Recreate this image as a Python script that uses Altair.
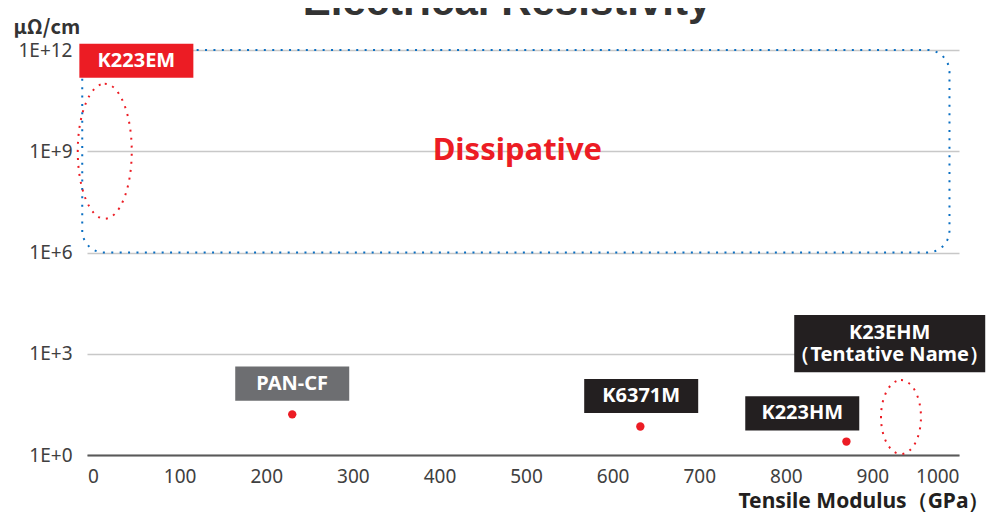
import altair as alt
import pandas as pd

# ---------------- data ----------------
# measured fibres (dots)
point_names = ["PAN-CF", "K6371M", "K223HM"]
point_modulus = [230, 632, 870]          # GPa
point_resist = [16, 7, 2.5]              # μΩ/cm

# estimated / tentative grades (dotted ellipses)
est_names = ["K223EM", "K23EHM"]
est_modulus = [13.5, 933]
est_resist = [1e9, 13.3]

# label boxes
label_names = ["K223EM", "PAN-CF", "K6371M", "K223HM", "K23EHM\n（Tentative Name）"]
label_modulus = [50, 230, 633, 819, 920]
label_resist = [4.8e11, 131, 56, 17, 2000]
label_kind = ["highlight", "generic", "product", "product", "tentative"]

# dissipative region
region_name = ["Dissipative"]
region_mod_start = [-12.5]
region_mod_end = [989]
region_res_low = [1e6]
region_res_high = [1e12]
region_text_mod = [490]
region_text_res = [1e9]

x_ticks = list(range(0, 1001, 100))
y_ticks = [1, 1e3, 1e6, 1e9, 1e12]

# ---------------- tables ----------------
points = pd.DataFrame({"name": point_names, "modulus": point_modulus, "resist": point_resist})
est = pd.DataFrame({"name": est_names, "modulus": est_modulus, "resist": est_resist})
labels = pd.DataFrame({"name": label_names, "modulus": label_modulus,
                       "resist": label_resist, "kind": label_kind})
region = pd.DataFrame({"name": region_name, "modulus": region_mod_start, "modulus_end": region_mod_end,
                       "resist_low": region_res_low, "resist": region_res_high,
                       "tx": region_text_mod, "ty": region_text_res})

RED = "#ec1c24"
BLUE = "#0a6fc2"
FONT = "Noto Sans"


def ellipse_path(a):
    k = 0.5523
    return (f"M0,-1C{k*a:.4f},-1 {a},{-k:.4f} {a},0"
            f"C{a},{k:.4f} {k*a:.4f},1 0,1"
            f"C{-k*a:.4f},1 {-a},{k:.4f} {-a},0"
            f"C{-a},{-k:.4f} {-k*a:.4f},-1 0,-1Z")


BOX = "M-1,-0.3L1,-0.3L1,0.3L-1,0.3Z"

xscale = alt.Scale(domain=[-7, 1000], nice=False, zero=False)
yscale = alt.Scale(type="log", domain=[1, 1e12], nice=False)

xaxis = alt.Axis(values=x_ticks, format="d", title="Tensile Modulus（GPa）", grid=False,
                 ticks=False, domain=True, domainColor="#595959", domainWidth=2,
                 labelFont=FONT, labelFontSize=19, labelColor="#404040",
                 labelPadding=12, titleFont=FONT, titleFontSize=21,
                 titleFontWeight="bold", titleColor="#231f20",
                 titleAlign="right", titleAnchor="start", titleX=902, titleY=52,
                 titleBaseline="alphabetic")
yaxis = alt.Axis(values=y_ticks, title="μΩ/cm", grid=True, gridColor="#c8c8c8",
                 gridWidth=1.5, ticks=False, domain=False,
                 labelExpr="'1E+' + round(log(datum.value) / LN10)",
                 labelFont=FONT, labelFontSize=19, labelColor="#404040",
                 labelPadding=15, labelOffset=0,
                 titleFont="Noto Sans CJK JP", titleFontSize=20, titleFontWeight="bold",
                 titleColor="#333333", titleAngle=0, titleAlign="left",
                 titleAnchor="start", titleX=-74, titleY=-17,
                 titleBaseline="alphabetic")


def X(field):
    return alt.X(field, type="quantitative", scale=xscale, axis=xaxis)


def Y(field):
    return alt.Y(field, type="quantitative", scale=yscale, axis=yaxis)


region_rect = alt.Chart(region).mark_rect(
    fill="transparent", stroke=BLUE, strokeWidth=2, strokeDash=[2, 6.4], cornerRadius=22
).encode(x=X("modulus"), x2="modulus_end:Q", y=Y("resist"), y2="resist_low:Q")

region_text = alt.Chart(region).mark_text(
    font=FONT, fontSize=31, fontWeight="bold", color=RED, baseline="middle", align="center"
).encode(x=X("tx"), y=Y("ty"), text="name:N")

ell1 = alt.Chart(est).transform_filter(alt.datum.name == "K223EM").mark_point(
    shape=ellipse_path(0.4), size=135 ** 2, filled=False, stroke=RED, strokeWidth=2,
    strokeDash=[2, 6], opacity=1
).encode(x=X("modulus"), y=Y("resist"))

ell2 = alt.Chart(est).transform_filter(alt.datum.name == "K23EHM").mark_point(
    shape=ellipse_path(0.54), size=74 ** 2, filled=False, stroke=RED, strokeWidth=2,
    strokeDash=[2, 6], opacity=1
).encode(x=X("modulus"), y=Y("resist"))

dots = alt.Chart(points).mark_circle(size=70, color=RED, opacity=1).encode(
    x=X("modulus"), y=Y("resist"))

color_scale = alt.Scale(domain=["highlight", "generic", "product", "tentative"],
                        range=[RED, "#6d6e71", "#231f20", "#231f20"])

boxes = alt.Chart(labels).mark_point(shape=BOX, filled=True, opacity=1, strokeWidth=0).encode(
    x=X("modulus"), y=Y("resist"),
    color=alt.Color("kind:N", scale=color_scale, legend=None),
    size=alt.condition("datum.kind == 'tentative'", alt.value(191 ** 2), alt.value(114 ** 2)),
)

box_text1 = alt.Chart(labels).transform_filter("datum.kind != 'tentative'").mark_text(
    font=FONT, fontSize=20, fontWeight="bold", color="white", baseline="middle",
    align="center"
).encode(x=X("modulus"), y=Y("resist"), text="name:N")

box_text2 = alt.Chart(labels).transform_filter("datum.kind == 'tentative'").mark_text(
    font=FONT, fontSize=20, fontWeight="bold", color="white", baseline="middle",
    align="center", lineBreak="\n", lineHeight=22, dy=-11
).encode(x=X("modulus"), y=Y("resist"), text="name:N")

chart = alt.layer(dots, region_rect, region_text, ell1, ell2, boxes, box_text1,
                  box_text2).properties(
    width=872, height=405,
    autosize=alt.AutoSizeParams(type="none"),
    padding={"left": 79, "top": 42, "right": 30, "bottom": 58},
    title=alt.TitleParams("Electrical Resistivity", font="Liberation Sans", fontSize=42,
                          fontWeight="bold", color="#333333", anchor="middle",
                          frame="group", dx=-16, dy=7, offset=0),
).configure_view(stroke=None)

chart.save("out.html", embed_options={"renderer": "svg", "actions": False})
